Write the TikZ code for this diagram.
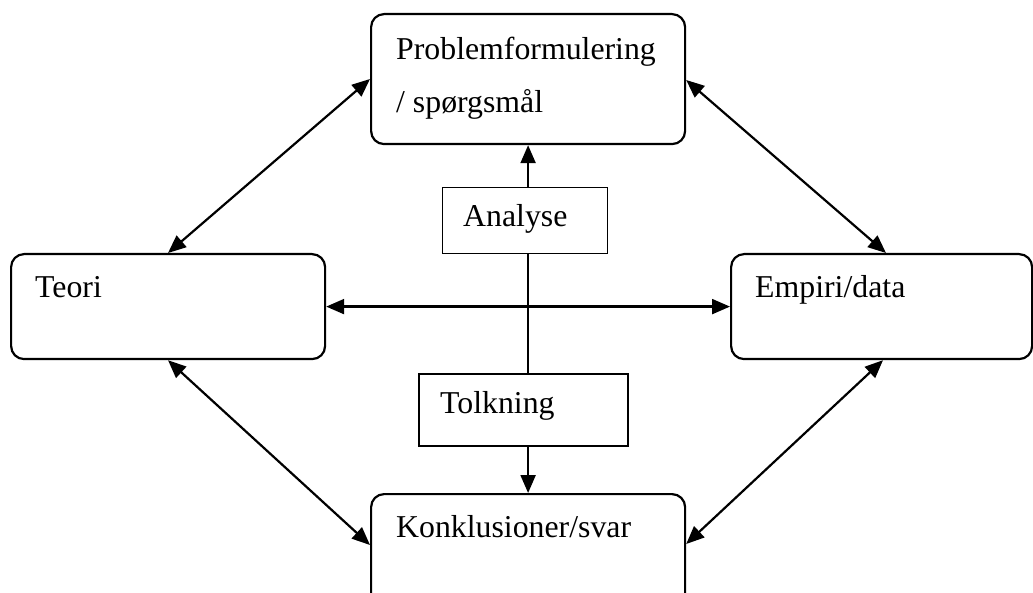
\documentclass[tikz,border=0pt]{standalone}
\usepackage{fontspec}
\setmainfont{Liberation Serif}
\usetikzlibrary{arrows.meta}
\begin{document}
\begin{tikzpicture}[x=1pt,y=-1pt,
  rbox/.style={draw,line width=2.2pt,rounded corners=13pt,anchor=north west,inner sep=0pt,fill=white},
  sbox/.style={draw,line width=2.2pt,anchor=north west,inner sep=0pt,fill=white},
  lbl/.style={anchor=base west,inner sep=0pt,font=\fontsize{31.8}{38}\selectfont},
  conn/.style={line width=2.2pt},
  tip/.tip={Triangle[length=18pt,width=15pt]}]
\useasboundingbox (0,0) rectangle (1033,593);
\clip (0,0) rectangle (1033,593);
% boxes
\node[rbox,minimum width=314pt,minimum height=130pt] (prob) at (370,13) {};
\node[rbox,minimum width=314pt,minimum height=105pt] (teori) at (10,253) {};
\node[rbox,minimum width=301pt,minimum height=105pt] (empiri) at (730,253) {};
\node[rbox,minimum width=314pt,minimum height=130pt] (konkl) at (370,493) {};
\node[sbox,minimum width=209pt,minimum height=72pt] (tolk) at (418,373) {};
% connectors
\draw[conn,tip-tip] ([xshift=158pt]teori.north west) -- ([yshift=-66pt]prob.north west);
\draw[conn,tip-tip] ([yshift=-67pt]prob.north east) -- ([xshift=156pt]empiri.north west);
\draw[conn,tip-tip] ([xshift=158pt]teori.south west) -- ([yshift=-52pt]konkl.north west);
\draw[conn,tip-tip] ([xshift=153pt]empiri.south west) -- ([yshift=-51pt]konkl.north east);
\draw[conn,tip-tip] (teori.east) -- (empiri.west);
\draw[conn,-tip] (tolk.north -| prob.south) -- (prob.south);
\draw[conn,-tip] (tolk.south -| konkl.north) -- (konkl.north);
\node[sbox,line width=1.2pt,minimum width=165pt,minimum height=66pt] (analyse) at (442,187) {};
% labels
\node[lbl] (tprob1) at (396,60) {Problemformulering};
\node[lbl] (tprob2) at (396,113) {/ spørgsmål};
\node[lbl] (tteori) at (35,298) {Teori};
\node[lbl] (tempiri) at (755,298) {Empiri/data};
\node[lbl] (tanalyse) at (463,227) {Analyse};
\node[lbl] (ttolk) at (440,413) {Tolkning};
\node[lbl] (tkonkl) at (396,537) {Konklusioner/svar};
\end{tikzpicture}
\end{document}
